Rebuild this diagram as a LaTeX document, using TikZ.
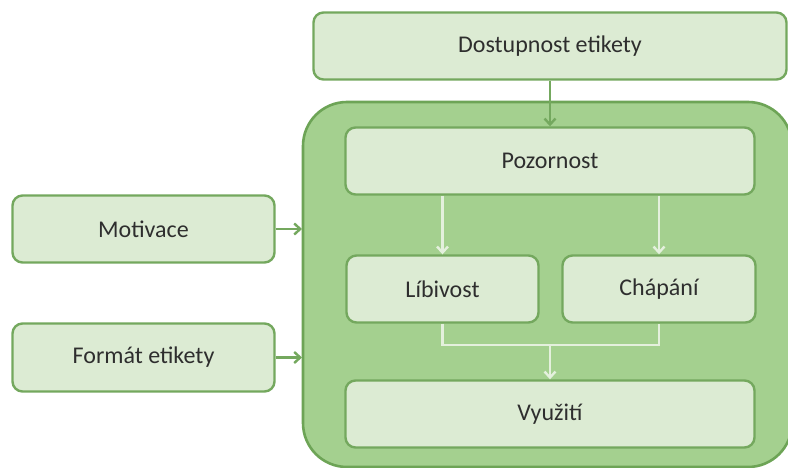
\documentclass[tikz,border=0pt]{standalone}
\usepackage{fontspec}
\setmainfont{Carlito}
\usetikzlibrary{arrows.meta}
\definecolor{lightfill}{HTML}{DCEBD3}
\definecolor{boxline}{HTML}{74A85E}
\definecolor{bigfill}{HTML}{A4D08F}
\definecolor{bigline}{HTML}{6DA456}
\definecolor{txt}{HTML}{2E2E2E}
\definecolor{innerarrow}{HTML}{E4F0DD}
\tikzset{
  x=1pt,y=-1pt,
  lbox/.style={draw=boxline,line width=2.4pt,fill=lightfill,rounded corners=10pt,
    text=txt,font=\fontsize{24}{28}\selectfont,inner sep=0pt},
  outarrow/.style={draw=boxline,line width=2.4pt,-{Straight Barb[length=6pt,width=11pt]}},
  inarrow/.style={draw=innerarrow,line width=2.4pt,-{Straight Barb[length=6pt,width=11pt]}},
}
\begin{document}
\begin{tikzpicture}
\useasboundingbox (0,0) rectangle (788,468);
\fill[white] (0,0) rectangle (788,468);
\begin{scope}
\clip (0,0) rectangle (788,468);
\draw[draw=bigline,line width=2.6pt,fill=bigfill,rounded corners=44pt] (303,102) rectangle (792,467);
\end{scope}
% boxes
\node[lbox,minimum width=473pt,minimum height=67pt] (dost) at (550,46) {Dostupnost etikety};
\node[lbox,minimum width=409pt,minimum height=67pt] (poz) at (550,161) {Pozornost};
\node[lbox,minimum width=192pt,minimum height=67pt] (lib) at (442.5,289) {Líbivost};
\node[lbox,minimum width=193pt,minimum height=67pt] (chap) at (659,289) {Chápání};
\node[lbox,minimum width=409pt,minimum height=67pt] (vyu) at (550,414) {Využití};
\node[lbox,minimum width=262pt,minimum height=67pt] (mot) at (143.5,229) {Motivace};
\node[lbox,minimum width=262pt,minimum height=68pt] (form) at (143.5,357.5) {Formát etikety};
% connectors
\coordinate (bigleftA) at (302,229);
\coordinate (bigleftB) at (302,357.5);
\draw[outarrow] (dost.south) -- (poz.north);
\draw[outarrow] (mot.east) -- (bigleftA);
\draw[outarrow] (form.east) -- (bigleftB);
\draw[inarrow] (poz.south -| lib.north) -- (lib.north);
\draw[inarrow] (poz.south -| chap.north) -- (chap.north);
\coordinate (merge) at (550,345);
\draw[draw=innerarrow,line width=2.4pt] (lib.south) |- (merge) -| (chap.south);
\draw[inarrow] (merge) -- (vyu.north);
\end{tikzpicture}
\end{document}
